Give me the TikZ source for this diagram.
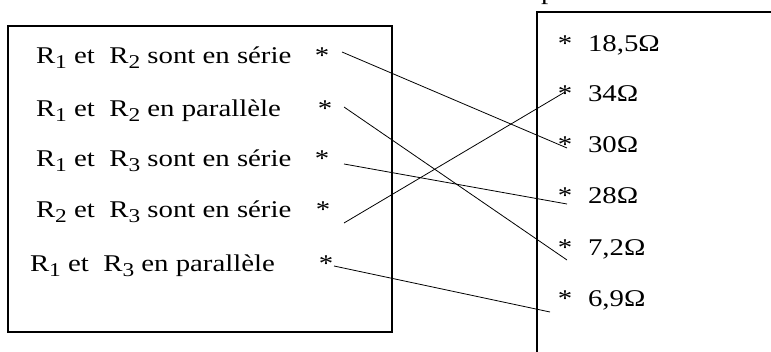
\documentclass[tikz,border=0pt]{standalone}
\usepackage{fontspec}
\setmainfont{Liberation Serif}
\newcommand\rsub[1]{\raisebox{-5pt}{\fontsize{19.5}{19.5}\selectfont #1}}
\newcommand\wide[1]{\scalebox{1.2}[1]{#1}}
\newcommand\widev[1]{\scalebox{1.2}[1]{#1}}
\begin{document}
\begin{tikzpicture}[x=1pt,y=-1pt,
  txt/.style={inner sep=0pt, outer sep=0pt, anchor=base west, font=\fontsize{24}{24}\selectfont},
  star/.style={inner sep=0pt, outer sep=0pt, anchor=base, font=\fontsize{24}{24}\selectfont},
  frame/.style={draw, line width=1.6pt},
  link/.style={draw, line width=0.8pt}]
\useasboundingbox (0,0) rectangle (771,352);
% frames
\draw[frame] (8,26) rectangle (392,332);
\draw[frame] (800,12) -- (537,12) -- (537,400);
\node[txt] (ptop) at (541,0) {\widev{p}};
% left texts
\node[txt] (l1) at (36,64) {\wide{R\rsub{1} et\ \ R\rsub{2} sont en série}};
\node[txt] (l2) at (36,117) {\wide{R\rsub{1} et\ \ R\rsub{2} en parallèle}};
\node[txt] (l3) at (36,167) {\wide{R\rsub{1} et\ \ R\rsub{3} sont en série}};
\node[txt] (l4) at (36,218) {\wide{R\rsub{2} et\ \ R\rsub{3} sont en série}};
\node[txt] (l5) at (30,272) {\wide{R\rsub{1} et\ \ R\rsub{3} en parallèle}};
\node[star] (s1) at (322,64) {\widev{*}};
\node[star] (s2) at (325,117) {\widev{*}};
\node[star] (s3) at (322,167) {\widev{*}};
\node[star] (s4) at (323,218) {\widev{*}};
\node[star] (s5) at (326,272) {\widev{*}};
% right texts
\node[star] (t1) at (565,52) {\widev{*}};
\node[star] (t2) at (565,102) {\widev{*}};
\node[star] (t3) at (565,153) {\widev{*}};
\node[star] (t4) at (565,204) {\widev{*}};
\node[star] (t5) at (565,256) {\widev{*}};
\node[star] (t6) at (565,307) {\widev{*}};
\node[txt] (v1) at (588,52) {\widev{18,5Ω}};
\node[txt] (v2) at (588,102) {\widev{34Ω}};
\node[txt] (v3) at (588,153) {\widev{30Ω}};
\node[txt] (v4) at (588,204) {\widev{28Ω}};
\node[txt] (v5) at (588,256) {\widev{7,2Ω}};
\node[txt] (v6) at (588,307) {\widev{6,9Ω}};
% connector ends
\coordinate (a1) at (342,52);
\coordinate (a2) at (344,107);
\coordinate (a3) at (344,164);
\coordinate (a4) at (344,223);
\coordinate (a5) at (334,266);
\coordinate (b3) at (567,148);
\coordinate (b5) at (567,260);
\coordinate (b4) at (567,204);
\coordinate (b2) at (565,92);
\coordinate (b6) at (550,312);
\draw[link] (a1) -- (b3);
\draw[link] (a2) -- (b5);
\draw[link] (a3) -- (b4);
\draw[link] (a4) -- (b2);
\draw[link] (a5) -- (b6);
\end{tikzpicture}
\end{document}
